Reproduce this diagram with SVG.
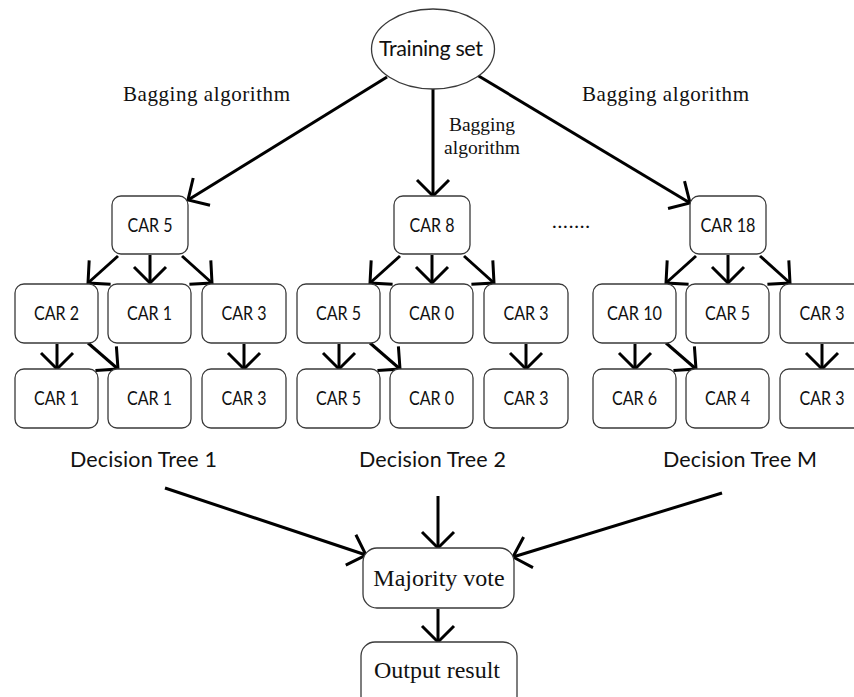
<svg xmlns="http://www.w3.org/2000/svg" width="854" height="697" viewBox="0 0 854 697">
  <defs>
    <style>
      .box { fill: #ffffff; stroke: #3a3a3a; stroke-width: 1.3; }
      .car { font-family: Lato, "Liberation Sans", sans-serif; font-size: 19px; fill: #111; text-anchor: middle; }
      .sans { font-family: Lato, "Liberation Sans", sans-serif; fill: #111; }
      .serif { font-family: "Liberation Serif", "Times New Roman", serif; fill: #111; }
      .edge { fill: none; stroke: #000; stroke-width: 3; marker-end: url(#head); }
    </style>
    <marker id="head" markerUnits="userSpaceOnUse" markerWidth="40" markerHeight="40" refX="0" refY="0" orient="auto" style="overflow:visible">
      <path d="M-16,-16 L0,0 L-16,16" fill="none" stroke="#000" stroke-width="3"/>
    </marker>
  </defs>

  <rect width="854" height="697" fill="#ffffff"/>

  <!-- connectors -->
  <g id="connectors">
    <!-- training set to the three trees -->
    <line class="edge" x1="387" y1="77" x2="188" y2="200"/>
    <line class="edge" x1="433" y1="89" x2="433" y2="196"/>
    <line class="edge" x1="477" y1="75" x2="690" y2="203"/>
    <!-- tree 1 -->
    <line class="edge" x1="118" y1="256" x2="88" y2="283"/>
    <line class="edge" x1="150" y1="255" x2="150" y2="283"/>
    <line class="edge" x1="182" y1="256" x2="212" y2="283"/>
    <line class="edge" x1="57" y1="344" x2="57" y2="369"/>
    <line class="edge" x1="88" y1="343" x2="118" y2="369"/>
    <line class="edge" x1="244" y1="344" x2="244" y2="369"/>
    <!-- tree 2 -->
    <line class="edge" x1="400" y1="256" x2="370" y2="283"/>
    <line class="edge" x1="432" y1="255" x2="432" y2="283"/>
    <line class="edge" x1="464" y1="256" x2="494" y2="283"/>
    <line class="edge" x1="339" y1="344" x2="339" y2="369"/>
    <line class="edge" x1="370" y1="343" x2="400" y2="369"/>
    <line class="edge" x1="526" y1="344" x2="526" y2="369"/>
    <!-- tree M -->
    <line class="edge" x1="696" y1="256" x2="666" y2="283"/>
    <line class="edge" x1="728" y1="255" x2="728" y2="283"/>
    <line class="edge" x1="760" y1="256" x2="790" y2="283"/>
    <line class="edge" x1="635" y1="344" x2="635" y2="369"/>
    <line class="edge" x1="666" y1="343" x2="696" y2="369"/>
    <line class="edge" x1="822" y1="344" x2="822" y2="369"/>
    <!-- trees to vote, vote to result -->
    <line class="edge" x1="165" y1="488" x2="366" y2="555"/>
    <line class="edge" x1="438" y1="496" x2="438" y2="548"/>
    <line class="edge" x1="722" y1="493" x2="513" y2="557"/>
    <line class="edge" x1="438" y1="609" x2="438" y2="642"/>
  </g>

  <!-- edge labels -->
  <g id="labels">
    <text class="serif" x="123" y="101" font-size="21" textLength="167">Bagging algorithm</text>
    <text class="serif" x="582" y="101" font-size="21" textLength="167">Bagging algorithm</text>
    <text class="serif" x="482" y="131" font-size="19.5" text-anchor="middle">Bagging</text>
    <text class="serif" x="482" y="154" font-size="19.5" text-anchor="middle">algorithm</text>
    <text class="sans" x="552" y="228" font-size="20" textLength="38">.......</text>
    <text class="sans" x="70" y="467" font-size="21.5" textLength="147">Decision Tree 1</text>
    <text class="sans" x="359" y="467" font-size="21.5" textLength="147">Decision Tree 2</text>
    <text class="sans" x="663" y="467" font-size="21.5" textLength="154">Decision Tree M</text>
  </g>

  <!-- root -->
  <g id="training-set">
    <ellipse cx="433" cy="49" rx="61.5" ry="40" fill="#fff" stroke="#3a3a3a" stroke-width="1.3"/>
    <text class="sans" x="431" y="56" font-size="21.5" text-anchor="middle" textLength="104">Training set</text>
  </g>

  <!-- decision tree 1 -->
  <g id="t1-root"><rect class="box" x="112" y="196" width="76" height="58" rx="9"/><text class="car" x="150" y="232" textLength="45" lengthAdjust="spacingAndGlyphs">CAR 5</text></g>
  <g id="t1-a"><rect class="box" x="15" y="284" width="83" height="59" rx="9"/><text class="car" x="56.5" y="320" textLength="45" lengthAdjust="spacingAndGlyphs">CAR 2</text></g>
  <g id="t1-b"><rect class="box" x="108" y="284" width="83" height="59" rx="9"/><text class="car" x="149.5" y="320" textLength="45" lengthAdjust="spacingAndGlyphs">CAR 1</text></g>
  <g id="t1-c"><rect class="box" x="202" y="284" width="84" height="59" rx="9"/><text class="car" x="244" y="320" textLength="45" lengthAdjust="spacingAndGlyphs">CAR 3</text></g>
  <g id="t1-d"><rect class="box" x="15" y="369" width="83" height="59" rx="9"/><text class="car" x="56.5" y="405" textLength="45" lengthAdjust="spacingAndGlyphs">CAR 1</text></g>
  <g id="t1-e"><rect class="box" x="108" y="369" width="83" height="59" rx="9"/><text class="car" x="149.5" y="405" textLength="45" lengthAdjust="spacingAndGlyphs">CAR 1</text></g>
  <g id="t1-f"><rect class="box" x="202" y="369" width="84" height="59" rx="9"/><text class="car" x="244" y="405" textLength="45" lengthAdjust="spacingAndGlyphs">CAR 3</text></g>

  <!-- decision tree 2 -->
  <g id="t2-root"><rect class="box" x="394" y="196" width="76" height="58" rx="9"/><text class="car" x="432" y="232" textLength="45" lengthAdjust="spacingAndGlyphs">CAR 8</text></g>
  <g id="t2-a"><rect class="box" x="297" y="284" width="83" height="59" rx="9"/><text class="car" x="338.5" y="320" textLength="45" lengthAdjust="spacingAndGlyphs">CAR 5</text></g>
  <g id="t2-b"><rect class="box" x="390" y="284" width="83" height="59" rx="9"/><text class="car" x="431.5" y="320" textLength="45" lengthAdjust="spacingAndGlyphs">CAR 0</text></g>
  <g id="t2-c"><rect class="box" x="484" y="284" width="84" height="59" rx="9"/><text class="car" x="526" y="320" textLength="45" lengthAdjust="spacingAndGlyphs">CAR 3</text></g>
  <g id="t2-d"><rect class="box" x="297" y="369" width="83" height="59" rx="9"/><text class="car" x="338.5" y="405" textLength="45" lengthAdjust="spacingAndGlyphs">CAR 5</text></g>
  <g id="t2-e"><rect class="box" x="390" y="369" width="83" height="59" rx="9"/><text class="car" x="431.5" y="405" textLength="45" lengthAdjust="spacingAndGlyphs">CAR 0</text></g>
  <g id="t2-f"><rect class="box" x="484" y="369" width="84" height="59" rx="9"/><text class="car" x="526" y="405" textLength="45" lengthAdjust="spacingAndGlyphs">CAR 3</text></g>

  <!-- decision tree M -->
  <g id="tm-root"><rect class="box" x="690" y="196" width="76" height="58" rx="9"/><text class="car" x="728" y="232" textLength="55" lengthAdjust="spacingAndGlyphs">CAR 18</text></g>
  <g id="tm-a"><rect class="box" x="593" y="284" width="83" height="59" rx="9"/><text class="car" x="634.5" y="320" textLength="55" lengthAdjust="spacingAndGlyphs">CAR 10</text></g>
  <g id="tm-b"><rect class="box" x="686" y="284" width="83" height="59" rx="9"/><text class="car" x="727.5" y="320" textLength="45" lengthAdjust="spacingAndGlyphs">CAR 5</text></g>
  <g id="tm-c"><rect class="box" x="780" y="284" width="84" height="59" rx="9"/><text class="car" x="822" y="320" textLength="45" lengthAdjust="spacingAndGlyphs">CAR 3</text></g>
  <g id="tm-d"><rect class="box" x="593" y="369" width="83" height="59" rx="9"/><text class="car" x="634.5" y="405" textLength="45" lengthAdjust="spacingAndGlyphs">CAR 6</text></g>
  <g id="tm-e"><rect class="box" x="686" y="369" width="83" height="59" rx="9"/><text class="car" x="727.5" y="405" textLength="45" lengthAdjust="spacingAndGlyphs">CAR 4</text></g>
  <g id="tm-f"><rect class="box" x="780" y="369" width="84" height="59" rx="9"/><text class="car" x="822" y="405" textLength="45" lengthAdjust="spacingAndGlyphs">CAR 3</text></g>

  <!-- aggregation -->
  <g id="majority-vote">
    <rect class="box" x="363" y="548" width="151" height="60" rx="14"/>
    <text class="serif" x="439" y="586" font-size="24" text-anchor="middle">Majority vote</text>
  </g>
  <g id="output-result">
    <rect class="box" x="361" y="642" width="156" height="72" rx="14"/>
    <text class="serif" x="437" y="678" font-size="24" text-anchor="middle">Output result</text>
  </g>
</svg>
